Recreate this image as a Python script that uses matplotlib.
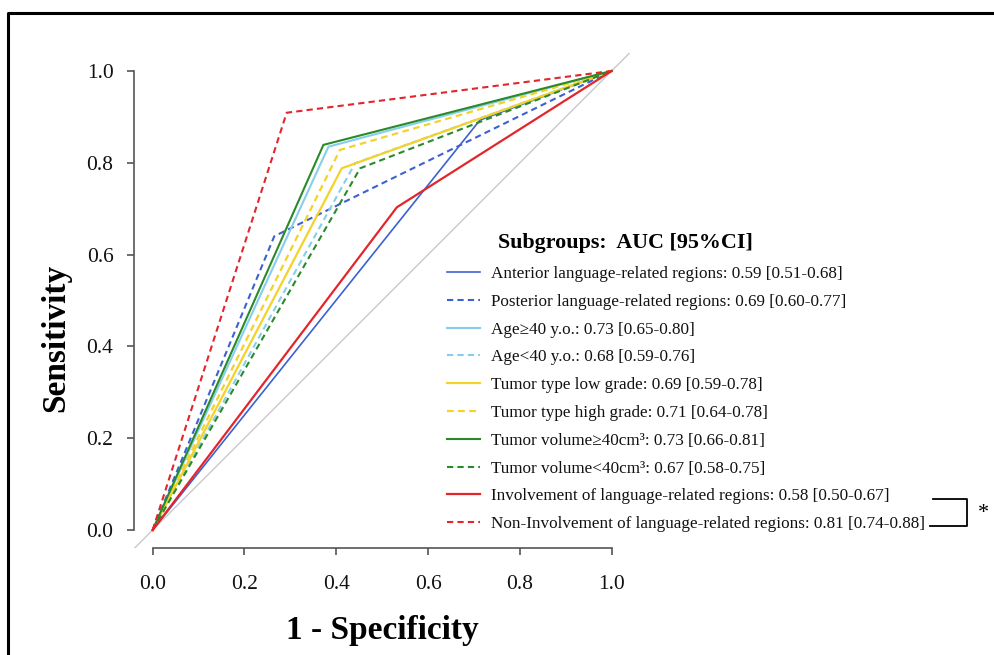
import matplotlib
matplotlib.use("Agg")
import matplotlib.pyplot as plt
from matplotlib.lines import Line2D

plt.rcParams['font.family'] = ['Liberation Serif', 'DejaVu Serif']

labels = [
    "Anterior language-related regions: 0.59 [0.51-0.68]",
    "Posterior language-related regions: 0.69 [0.60-0.77]",
    "Age\u226540 y.o.: 0.73 [0.65-0.80]",
    "Age<40 y.o.: 0.68 [0.59-0.76]",
    "Tumor type low grade: 0.69 [0.59-0.78]",
    "Tumor type high grade: 0.71 [0.64-0.78]",
    "Tumor volume\u226540cm\u00b3: 0.73 [0.66-0.81]",
    "Tumor volume<40cm\u00b3: 0.67 [0.58-0.75]",
    "Involvement of language-related regions: 0.58 [0.50-0.67]",
    "Non-Involvement of language-related regions: 0.81 [0.74-0.88]",
]
# 1 - specificity and sensitivity at the single cut-point of each ROC curve
fpr_mid = [0.713, 0.265, 0.383, 0.441, 0.412, 0.408, 0.372, 0.452, 0.532, 0.292]
sens_mid = [0.893, 0.640, 0.835, 0.799, 0.788, 0.828, 0.839, 0.788, 0.703, 0.909]

colors = ['#3B62D0', '#3B62D0', '#87CEEB', '#87CEEB', '#F3D22A', '#F3D22A',
          '#2A8A2A', '#2A8A2A', '#E2262B', '#E2262B']
styles = ['-', '--', '-', '--', '-', '--', '-', '--', '-', '--']
widths = [1.2, 1.5, 1.5, 1.5, 1.6, 1.6, 1.5, 1.5, 1.6, 1.5]

x_ticks = [0.0, 0.2, 0.4, 0.6, 0.8, 1.0]
y_ticks = [0.0, 0.2, 0.4, 0.6, 0.8, 1.0]

W, H = 994, 655
fig = plt.figure(figsize=(W / 100, H / 100), dpi=100)
fig.patch.set_facecolor('white')

# axes placement in pixels: plot region spans data -0.04 .. 1.04
left_px, right_px, top_px, bottom_px = 134.3, 630.0, 52.6, 548.4
ax = fig.add_axes([left_px / W, (H - bottom_px) / H,
                   (right_px - left_px) / W, (bottom_px - top_px) / H])
ax.set_xlim(-0.04, 1.04)
ax.set_ylim(-0.04, 1.04)

# chance diagonal
ax.plot([-0.04, 1.04], [-0.04, 1.04], color='#C8C8C8', lw=1.0, zorder=1)

handles = []
for lab, fx, sy, c, ls, lw in zip(labels, fpr_mid, sens_mid, colors, styles, widths):
    kw = dict(color=c, lw=lw, zorder=2, solid_joinstyle='miter')
    if ls == '--':
        kw['dashes'] = (3.0, 2.0)
    line, = ax.plot([0.0, fx, 1.0], [0.0, sy, 1.0], **kw)
    handles.append(line)

for s in ['top', 'right']:
    ax.spines[s].set_visible(False)
for s in ['left', 'bottom']:
    ax.spines[s].set_color('#555555')
    ax.spines[s].set_linewidth(1.2)
ax.spines['left'].set_bounds(0, 1)
ax.spines['bottom'].set_bounds(0, 1)

ax.set_xticks(x_ticks)
ax.set_yticks(y_ticks)
ax.set_xticklabels([f"{v:.1f}" for v in x_ticks])
ax.set_yticklabels([f"{v:.1f}" for v in y_ticks])
ax.tick_params(axis='both', direction='out', length=5, width=1.2, color='#555555',
               labelsize=15.5, labelcolor='#111111')
ax.tick_params(axis='x', pad=14)
ax.tick_params(axis='y', pad=10)

fig.text(382 / W, 1 - 630 / H, "1 - Specificity", fontsize=24, fontweight='bold',
         ha='center', va='center')
fig.text(56 / W, 1 - 338 / H, "Sensitivity", fontsize=24, fontweight='bold',
         ha='center', va='center', rotation=90)

# legend
fig.text(625 / W, 1 - 243 / H, "Subgroups:  AUC [95%CI]", fontsize=15.8,
         fontweight='bold', ha='center', va='center')
leg = fig.legend(handles=handles, labels=labels, loc='upper left',
                 bbox_to_anchor=(447 / W, 1 - 266 / H), frameon=False,
                 fontsize=12.3, handlelength=1.95, handletextpad=0.62,
                 labelspacing=0.69, borderpad=0, borderaxespad=0)
for t in leg.get_texts():
    t.set_color('#111111')

# bracket linking the two involvement curves
y1, y2 = 1 - 499 / H, 1 - 526 / H
fig.add_artist(Line2D([933 / W, 967 / W, 967 / W, 930 / W], [y1, y1, y2, y2],
                      transform=fig.transFigure, color='black', lw=1.3))
fig.text(983 / W, 1 - 514 / H, "*", fontsize=16, ha='center', va='center')

# outer frame (cropped on right and bottom)
fig.add_artist(Line2D([8 / W, 8 / W, 1.0], [0.0, 1 - 13 / H, 1 - 13 / H],
                      transform=fig.transFigure, color='black', lw=2.2))

fig.savefig("out.png", dpi=100)
